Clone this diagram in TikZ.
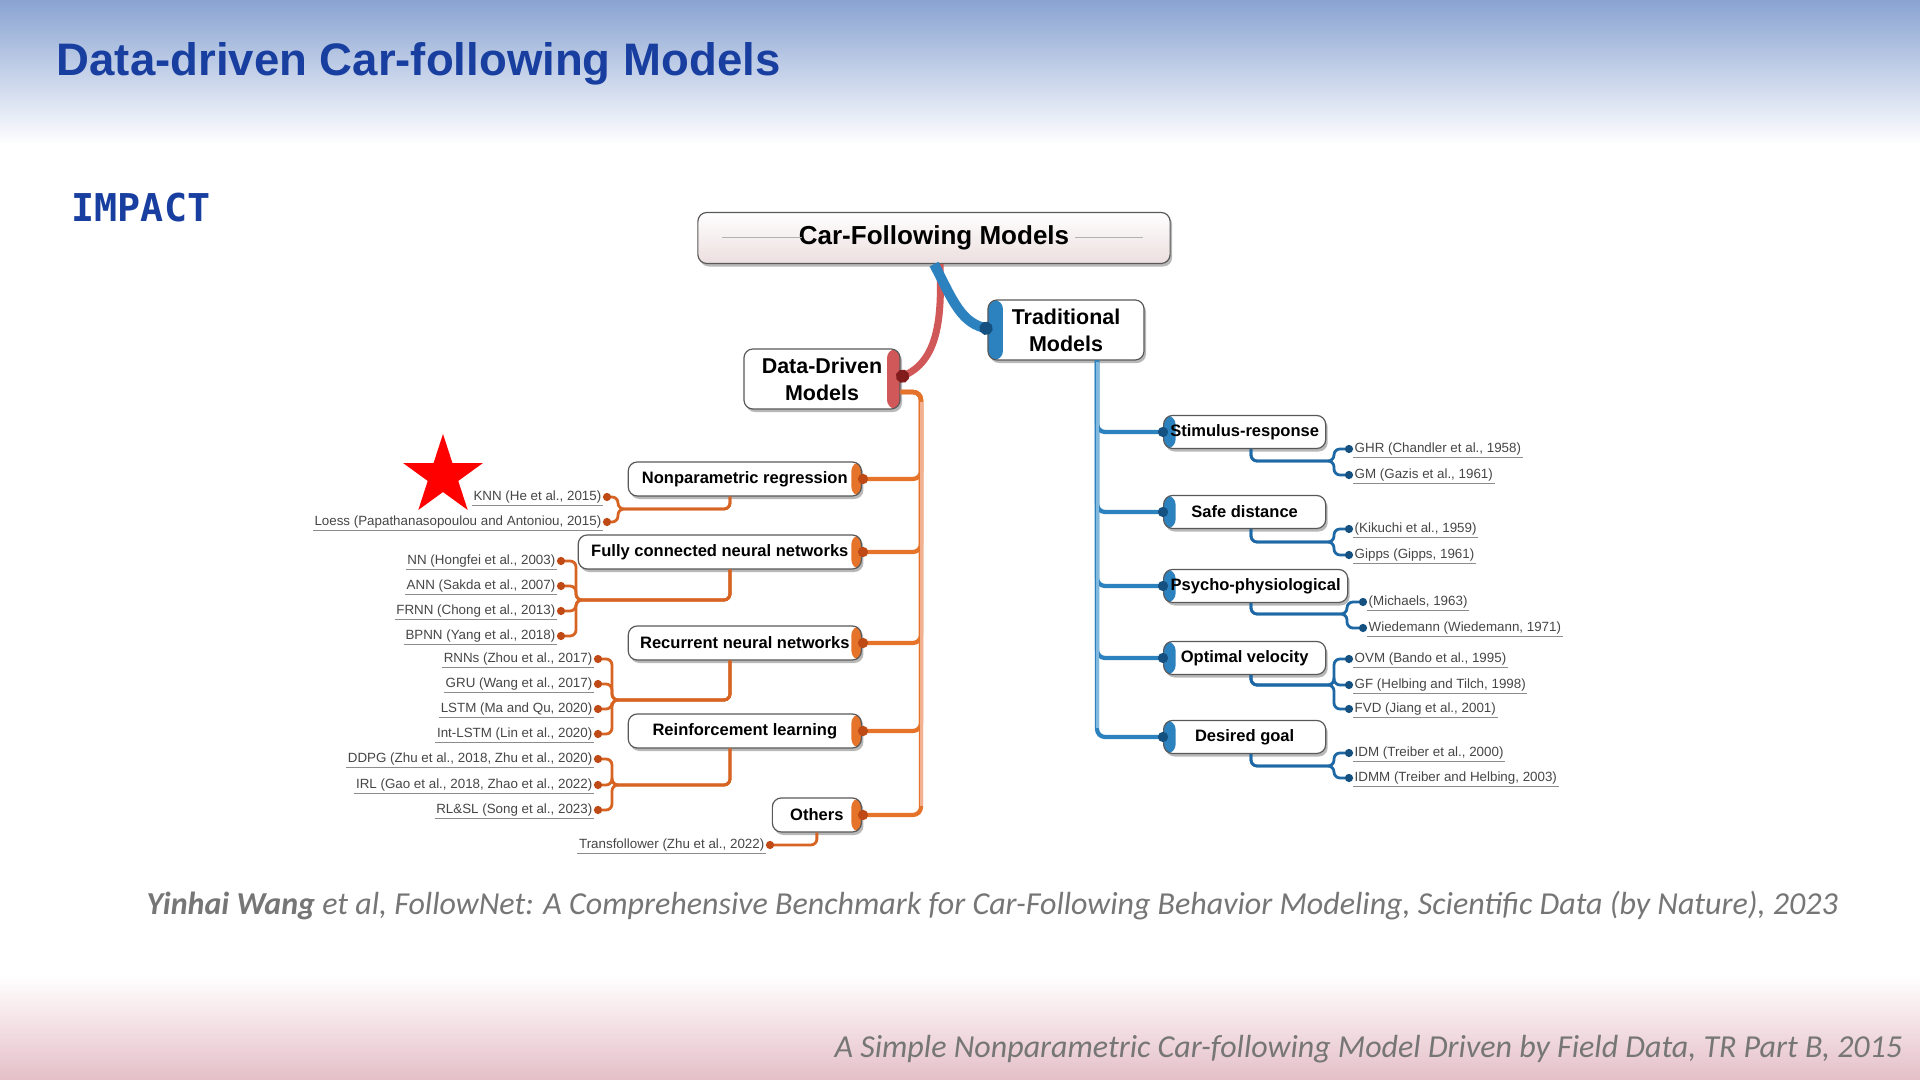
\documentclass[tikz,border=0pt]{standalone}
\usepackage{fontspec}
\setmainfont{Liberation Sans}
\newfontfamily\citefont{Carlito}
\newfontfamily\codefont{DejaVu Sans Mono}
\usetikzlibrary{arrows.meta,shapes.geometric,shadows}

\definecolor{titleblue}{RGB}{24,62,160}
\definecolor{bandtop}{RGB}{137,163,210}
\definecolor{bandbot}{RGB}{229,191,200}
\definecolor{citegray}{RGB}{118,118,118}
\definecolor{rootpink}{RGB}{236,222,222}
\definecolor{ddred}{RGB}{208,88,88}
\definecolor{ddreddot}{RGB}{130,28,28}
\definecolor{ddorange}{RGB}{230,115,42}
\definecolor{ddpale}{RGB}{242,178,145}
\definecolor{dddot}{RGB}{192,74,22}
\definecolor{leaforange}{RGB}{215,100,35}
\definecolor{trblue}{RGB}{44,130,190}
\definecolor{trpale}{RGB}{130,185,222}
\definecolor{trdot}{RGB}{20,80,128}
\definecolor{leafblue}{RGB}{30,105,165}
\definecolor{leafgray}{RGB}{70,70,70}

\newcommand{\mapcatfont}{\fontsize{4.7pt}{5.6pt}\selectfont\bfseries}
\newcommand{\mapleaffont}{\fontsize{3.8pt}{4.5pt}\selectfont}

\begin{document}
\begin{tikzpicture}[x=0.01cm,y=-0.01cm,
			box/.style={
				draw=black!65,
				fill=white,
				rounded corners=0.09cm,
				line width=0.012cm,
				align=center,
				inner sep=0.02cm,
				drop shadow={shadow xshift=0.02cm,shadow yshift=-0.03cm,fill=black!55}},
			rootbox/.style={box,top color=white,bottom color=rootpink,
				minimum width=4.72cm,minimum height=0.51cm,
				font=\fontsize{7.4pt}{8pt}\selectfont\bfseries},
			midbox/.style={box,minimum width=1.56cm,minimum height=0.6cm,
				font=\fontsize{6.1pt}{7.6pt}\selectfont\bfseries},
			ddband/.style={path picture={\fill[ddred] ([xshift=-0.13cm]path picture bounding box.north east) rectangle (path picture bounding box.south east);}},
			tradband/.style={path picture={\fill[trblue] (path picture bounding box.north west) rectangle ([xshift=0.15cm]path picture bounding box.south west);}},
			catL/.style={box,anchor=east,minimum width=2.33cm,minimum height=0.34cm,
				inner xsep=0.04cm,font=\mapcatfont,
				path picture={\fill[ddorange] ([xshift=-0.1cm]path picture bounding box.north east) rectangle (path picture bounding box.south east);}},
			catR/.style={box,anchor=west,minimum width=1.62cm,minimum height=0.33cm,
				inner xsep=0.04cm,font=\mapcatfont,
				path picture={\fill[trblue] (path picture bounding box.north west) rectangle ([xshift=0.12cm]path picture bounding box.south west);}},
			leafleft/.style={anchor=east,inner sep=0.01cm,text=leafgray,font=\mapleaffont,
				text height=2.8pt,text depth=0.8pt,
				append after command={(\tikzlastnode.south west) edge[draw=black!45,line width=0.008cm] (\tikzlastnode.south east)}},
			leafright/.style={leafleft,anchor=west},
			rootred/.style={draw=ddred,line width=0.07cm,-{Circle[length=0.13cm,color=ddreddot]}},
			rootblue/.style={draw=trblue,line width=0.1cm,-{Circle[length=0.13cm,color=trdot]}},
			branchL/.style={draw=ddorange,line width=0.042cm,rounded corners=0.08cm,
				-{Circle[length=0.1cm,color=dddot]}},
			branchR/.style={draw=trblue,line width=0.042cm,rounded corners=0.08cm,
				-{Circle[length=0.1cm,color=trdot]}},
			leafL/.style={draw=leaforange,line width=0.028cm,rounded corners=0.06cm,
				-{Circle[length=0.08cm,color=dddot]}},
			leafR/.style={draw=leafblue,line width=0.028cm,rounded corners=0.06cm,
				-{Circle[length=0.08cm,color=trdot]}}]
			
			\useasboundingbox (0,0) rectangle (1920,1080);
			
			% slide background
			\fill[white] (0,0) rectangle (1920,1080);
			
			\shade[top color=bandtop,bottom color=white] (0,0) rectangle (1920,145);
			
			\shade[top color=white,bottom color=bandbot] (0,975) rectangle (1920,1080);
			
			\node (title)[anchor=base west,inner sep=0pt,text=titleblue,
				font=\fontsize{12.95pt}{14pt}\selectfont\bfseries] at (56,76){Data-driven Car-following Models};
			
			\node (impact)[anchor=base west,inner sep=0pt,text=titleblue,
				font=\codefont\fontsize{10.9pt}{12pt}\selectfont\bfseries] at (71,222){IMPACT};
			
			\node (star)[star,star points=5,star point ratio=2.618,fill=red,
				minimum size=0.84cm,inner sep=0pt] at (443,476){};
			
			% mind map
			\node (root)[rootbox] at (934,238){Car-Following Models};
			
			\draw[black!30,line width=0.01cm] ([xshift=0.25cm]root.west) -- ([xshift=1.05cm]root.west);
			
			\draw[black!30,line width=0.01cm] ([xshift=-0.28cm]root.east) -- ([xshift=-0.96cm]root.east);
			
			\node (trad)[midbox,tradband] at (1066,330){Traditional\\Models};
			
			\node (dd)[midbox,ddband] at (822,379){Data-Driven\\Models};
			
			\node (np)[catL] at (862,479){Nonparametric regression};
			
			\node (fc)[catL,minimum width=2.83cm] at (862,552){Fully connected neural networks};
			
			\node (rnn)[catL] at (862,643){Recurrent neural networks};
			
			\node (rl)[catL] at (862,731){Reinforcement learning};
			
			\node (oth)[catL,minimum width=0.89cm] at (862,815){Others};
			
			\node (stim)[catR] at (1163,432){Stimulus-response};
			
			\node (safe)[catR] at (1163,512){Safe distance};
			
			\node (psy)[catR,minimum width=1.84cm] at (1163,586){Psycho-physiological};
			
			\node (opt)[catR] at (1163,658){Optimal velocity};
			
			\node (goal)[catR] at (1163,737){Desired goal};
			
			% references, data-driven side
			\node (knn)[leafleft] at (603,497){KNN (He et al., 2015)};
			\node (loess)[leafleft] at (603,522){Loess (Papathanasopoulou and Antoniou, 2015)};
			
			\node (nn)[leafleft] at (557,561){NN (Hongfei et al., 2003)};
			\node (ann)[leafleft] at (557,586){ANN (Sakda et al., 2007)};
			\node (frnn)[leafleft] at (557,611){FRNN (Chong et al., 2013)};
			\node (bpnn)[leafleft] at (557,636){BPNN (Yang et al., 2018)};
			
			\node (rnns)[leafleft] at (594,659){RNNs (Zhou et al., 2017)};
			\node (gru)[leafleft] at (594,684){GRU (Wang et al., 2017)};
			\node (lstm)[leafleft] at (594,709){LSTM (Ma and Qu, 2020)};
			\node (intlstm)[leafleft] at (594,734){Int-LSTM (Lin et al., 2020)};
			
			\node (ddpg)[leafleft] at (594,759){DDPG (Zhu et al., 2018, Zhu et al., 2020)};
			\node (irl)[leafleft] at (594,785){IRL (Gao et al., 2018, Zhao et al., 2022)};
			\node (rlsl)[leafleft] at (594,810){RL\&SL (Song et al., 2023)};
			
			\node (transf)[leafleft] at (766,845){Transfollower (Zhu et al., 2022)};
			
			% references, traditional side
			\node (ghr)[leafright] at (1353,449){GHR (Chandler et al., 1958)};
			\node (gm)[leafright] at (1353,475){GM (Gazis et al., 1961)};
			
			\node (kik)[leafright] at (1353,529){(Kikuchi et al., 1959)};
			\node (gipps)[leafright] at (1353,555){Gipps (Gipps, 1961)};
			
			\node (mich)[leafright] at (1367,602){(Michaels, 1963)};
			\node (wied)[leafright] at (1367,628){Wiedemann (Wiedemann, 1971)};
			
			\node (ovm)[leafright] at (1353,659){OVM (Bando et al., 1995)};
			\node (gf)[leafright] at (1353,685){GF (Helbing and Tilch, 1998)};
			\node (fvd)[leafright] at (1353,709){FVD (Jiang et al., 2001)};
			
			\node (idm)[leafright] at (1353,753){IDM (Treiber et al., 2000)};
			\node (idmm)[leafright] at (1353,778){IDMM (Treiber and Helbing, 2003)};
			
			% trunk and fork points
			\coordinate (ddtrunk) at (921,0);
			\coordinate (trtrunk) at (1097,0);
			\coordinate (ddstem) at (730,0);
			\coordinate (trstem) at (1251,0);
			
			\coordinate (npfork) at (618,509);
			\coordinate (fcfork) at (576,600);
			\coordinate (rnnfork) at (612,700);
			\coordinate (rlfork) at (612,785);
			
			\coordinate (stimfork) at (1334,461);
			\coordinate (safefork) at (1334,542);
			\coordinate (psyfork) at (1347,614);
			\coordinate (optfork) at (1334,685);
			\coordinate (goalfork) at (1334,766);
			
			% connectors
			\draw[rootred] ([xshift=0.06cm]root.south) to[out=-88,in=25] ([xshift=-0.04cm]dd.east);
			
			\draw[rootblue] (root.south) to[out=-62,in=165] ([xshift=0.05cm]trad.west);
			
			\draw[branchL] ([yshift=-0.13cm]dd.east) -| (np.east -| ddtrunk) -- ([xshift=-0.04cm]np.east);
			\draw[branchL] ([yshift=-0.13cm]dd.east) -| (fc.east -| ddtrunk) -- ([xshift=-0.04cm]fc.east);
			\draw[branchL] ([yshift=-0.13cm]dd.east) -| (rnn.east -| ddtrunk) -- ([xshift=-0.04cm]rnn.east);
			\draw[branchL] ([yshift=-0.13cm]dd.east) -| (rl.east -| ddtrunk) -- ([xshift=-0.04cm]rl.east);
			\draw[branchL] ([yshift=-0.13cm]dd.east) -| (oth.east -| ddtrunk) -- ([xshift=-0.04cm]oth.east);
			
			\draw[ddpale,line width=0.03cm] (921,402) -- (921,806);
			
			\draw[branchR] (trad.south -| trtrunk) |- ([xshift=0.05cm]stim.west);
			\draw[branchR] (trad.south -| trtrunk) |- ([xshift=0.05cm]safe.west);
			\draw[branchR] (trad.south -| trtrunk) |- ([xshift=0.05cm]psy.west);
			\draw[branchR] (trad.south -| trtrunk) |- ([xshift=0.05cm]opt.west);
			\draw[branchR] (trad.south -| trtrunk) |- ([xshift=0.05cm]goal.west);
			
			\draw[trpale,line width=0.03cm] (1097,362) -- (1097,728);
			
			\draw[leafL] (np.south -| ddstem) |- (npfork) |- (knn.east);
			\draw[leafL] (np.south -| ddstem) |- (npfork) |- (loess.east);
			
			\draw[leafL] (fc.south -| ddstem) |- (fcfork) |- (nn.east);
			\draw[leafL] (fc.south -| ddstem) |- (fcfork) |- (ann.east);
			\draw[leafL] (fc.south -| ddstem) |- (fcfork) |- (frnn.east);
			\draw[leafL] (fc.south -| ddstem) |- (fcfork) |- (bpnn.east);
			
			\draw[leafL] (rnn.south -| ddstem) |- (rnnfork) |- (rnns.east);
			\draw[leafL] (rnn.south -| ddstem) |- (rnnfork) |- (gru.east);
			\draw[leafL] (rnn.south -| ddstem) |- (rnnfork) |- (lstm.east);
			\draw[leafL] (rnn.south -| ddstem) |- (rnnfork) |- (intlstm.east);
			
			\draw[leafL] (rl.south -| ddstem) |- (rlfork) |- (ddpg.east);
			\draw[leafL] (rl.south -| ddstem) |- (rlfork) |- (irl.east);
			\draw[leafL] (rl.south -| ddstem) |- (rlfork) |- (rlsl.east);
			
			\draw[leafL] (oth.south) |- (transf.east);
			
			\draw[leafR] (stim.south -| trstem) |- (stimfork) |- (ghr.west);
			\draw[leafR] (stim.south -| trstem) |- (stimfork) |- (gm.west);
			
			\draw[leafR] (safe.south -| trstem) |- (safefork) |- (kik.west);
			\draw[leafR] (safe.south -| trstem) |- (safefork) |- (gipps.west);
			
			\draw[leafR] (psy.south -| trstem) |- (psyfork) |- (mich.west);
			\draw[leafR] (psy.south -| trstem) |- (psyfork) |- (wied.west);
			
			\draw[leafR] (opt.south -| trstem) |- (optfork) |- (ovm.west);
			\draw[leafR] (opt.south -| trstem) |- (optfork) |- (gf.west);
			\draw[leafR] (opt.south -| trstem) |- (optfork) |- (fvd.west);
			
			\draw[leafR] (goal.south -| trstem) |- (goalfork) |- (idm.west);
			\draw[leafR] (goal.south -| trstem) |- (goalfork) |- (idmm.west);
			
			% citations
			\node (cite1)[anchor=base west,inner sep=0pt,text=citegray,
				font=\citefont\itshape\fontsize{9.1pt}{10pt}\selectfont] at (146,915){\textbf{Yinhai Wang} et al, FollowNet: A Comprehensive Benchmark for Car-Following Behavior Modeling, Scientific Data (by Nature), 2023};
			
			\node (cite2)[anchor=base east,inner sep=0pt,text=citegray,
				font=\citefont\itshape\fontsize{9.1pt}{10pt}\selectfont] at (1903,1058){A Simple Nonparametric Car-following Model Driven by Field Data, TR Part B, 2015};
			
		\end{tikzpicture}
\end{document}
